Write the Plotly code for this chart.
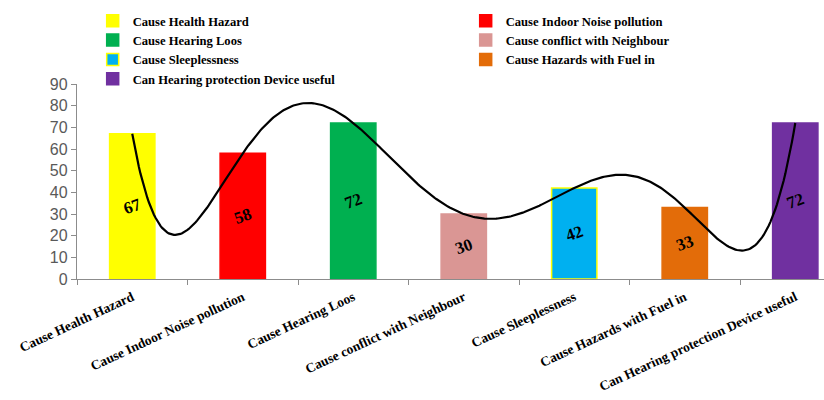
import numpy as np
import plotly.graph_objects as go

# Survey responses (percent) for each noise-related effect
categories = [
    "Cause Health Hazard",
    "Cause Indoor Noise pollution",
    "Cause Hearing Loos",
    "Cause conflict with Neighbour",
    "Cause Sleeplessness",
    "Cause Hazards with Fuel in",
    "Can Hearing protection Device useful",
]
values = [67, 58, 72, 30, 42, 33, 72]
bar_colors = ["#FFFF00", "#FF0000", "#00B050", "#DA9694", "#00B0F0", "#E36C09", "#7030A0"]
edge_colors = ["#FFFF00", "#FF0000", "#00B050", "#DA9694", "#FFFF00", "#E36C09", "#7030A0"]
y_ticks = [0, 10, 20, 30, 40, 50, 60, 70, 80, 90]

serif = "Liberation Serif"
positions = np.arange(len(categories))

fig = go.Figure()

for i, (name, val) in enumerate(zip(categories, values)):
    fig.add_trace(go.Bar(
        x=[positions[i]],
        y=[val],
        name=name,
        width=0.41,
        marker=dict(color=bar_colors[i], line=dict(color=edge_colors[i], width=1.5)),
        text=[val],
        texttemplate="<b>%{y}</b>",
        textposition="inside",
        insidetextanchor="middle",
        textangle=-20,
        constraintext="none",
        textfont=dict(family=serif, size=17, color="black"),
        showlegend=True,
    ))

# Order-6 polynomial trendline through the category values
coef = np.polyfit(positions, values, len(values) - 1)
xs = np.linspace(0, len(values) - 1, 400)
fig.add_trace(go.Scatter(
    x=xs, y=np.polyval(coef, xs), mode="lines",
    line=dict(color="black", width=2.2),
    showlegend=False, hoverinfo="skip",
))

fig.update_layout(
    width=824, height=400,
    margin=dict(l=77, r=0, t=84, b=121, autoexpand=False),
    plot_bgcolor="white", paper_bgcolor="white",
    barmode="overlay",
    legend=dict(
        orientation="h",
        x=0.021, xanchor="left",
        y=1.40, yanchor="top",
        entrywidth=328,
        bgcolor="rgba(0,0,0,0)",
        font=dict(family=serif, size=12.6, color="black", weight="bold"),
        tracegroupgap=0,
        itemwidth=30,
    ),
    xaxis=dict(
        range=[-0.5, 6.26],
        tickmode="array",
        tickvals=list(positions),
        ticktext=categories,
        ticks="",
        tickangle=-25,
        ticklabelstandoff=4,
        tickfont=dict(family=serif, size=13.5, color="black", weight="bold"),
        showline=True, linecolor="#8C8C8C", linewidth=1.3,
        showgrid=False, zeroline=False,
        minor=dict(ticks="outside", tick0=-0.5, dtick=1, ticklen=5,
                   tickcolor="#8C8C8C", tickwidth=1, showgrid=False),
    ),
    yaxis=dict(
        range=[0, 90],
        tickmode="array",
        tickvals=y_ticks,
        ticks="outside", ticklen=5, tickcolor="#8C8C8C",
        tickfont=dict(family="Liberation Sans", size=16, color="#595959"),
        showline=True, linecolor="#8C8C8C", linewidth=1.3,
        showgrid=False, zeroline=False,
    ),
)

fig.write_html("out.html")
